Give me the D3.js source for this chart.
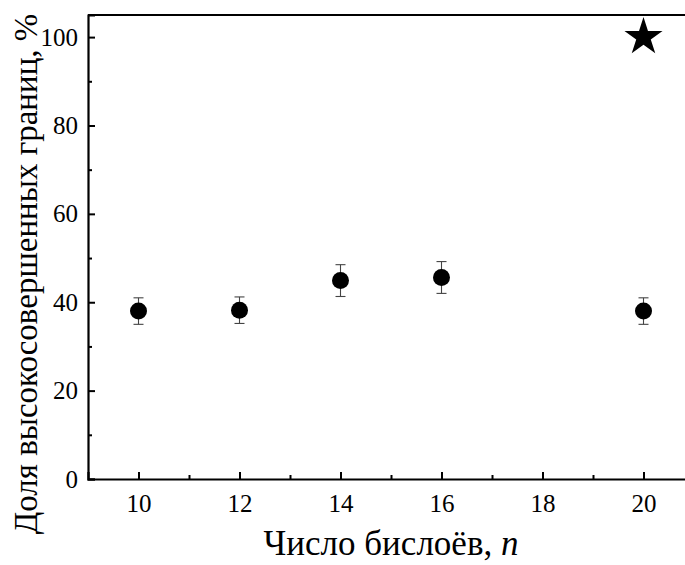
<!DOCTYPE html>
<html>
<head>
<meta charset="utf-8">
<script src="https://cdn.jsdelivr.net/npm/d3@7"></script>
<style>
  html, body { margin: 0; padding: 0; background: #fff; }
  svg { display: block; }
  text { font-family: "Liberation Serif", "Times New Roman", serif; fill: #000; }
</style>
</head>
<body>
<svg id="chart" width="685" height="565"></svg>
<script>
// Number of bilayers and share of high-perfection boundaries
const layers = [10, 12, 14, 16, 20];
const fraction = [38.0, 38.2, 44.9, 45.6, 38.0];
const fractionErr = [3.0, 3.0, 3.6, 3.6, 3.0];

// Reference point marked by a star
const starLayers = [20];
const starFraction = [100];

const xTicks = [10, 12, 14, 16, 18, 20];
const xMinorTicks = [11, 13, 15, 17, 19];
const yTicks = [0, 20, 40, 60, 80, 100];
const yMinorTicks = [10, 30, 50, 70, 90];

const svg = d3.select("#chart");
const W = 685, H = 565;
const margin = { left: 88, top: 15, bottom: 86 };
const plotRight = 694;

const x = d3.scaleLinear().domain([9, 21]).range([margin.left, plotRight]);
const y = d3.scaleLinear().domain([0, 105]).range([H - margin.bottom, margin.top]);

const g = svg.append("g");

// top frame line
g.append("line")
  .attr("x1", x(9)).attr("x2", x(21))
  .attr("y1", y(105)).attr("y2", y(105))
  .attr("stroke", "#000").attr("stroke-width", 2);

// x axis: major ticks with labels, minor ticks without
g.append("g")
  .attr("transform", `translate(0,${y(0)})`)
  .call(d3.axisBottom(x).tickValues(xTicks).tickSize(-7).tickPadding(15).tickFormat(d3.format("d")));
g.append("g")
  .attr("transform", `translate(0,${y(0)})`)
  .call(d3.axisBottom(x).tickValues(xMinorTicks).tickSize(-4).tickFormat(""))
  .select(".domain").remove();

// y axis
g.append("g")
  .attr("transform", `translate(${x(9)},0)`)
  .call(d3.axisLeft(y).tickValues(yTicks).tickSize(-7).tickPadding(10).tickFormat(d3.format("d")));
g.append("g")
  .attr("transform", `translate(${x(9)},0)`)
  .call(d3.axisLeft(y).tickValues(yMinorTicks).tickSize(-4).tickFormat(""))
  .select(".domain").remove();

svg.selectAll(".domain").attr("stroke", "#000").attr("stroke-width", 2.2);
svg.selectAll(".tick line").attr("stroke", "#000").attr("stroke-width", 2);
svg.selectAll(".tick text").attr("font-size", 25).attr("font-family", "Liberation Serif");

// error bars
const pts = layers.map((n, i) => ({ n, v: fraction[i], e: fractionErr[i] }));
const eb = g.append("g").attr("stroke", "#444").attr("stroke-width", 1.1);
eb.selectAll("line.v").data(pts).join("line")
  .attr("x1", d => x(d.n)).attr("x2", d => x(d.n))
  .attr("y1", d => y(d.v + d.e)).attr("y2", d => y(d.v - d.e));
eb.selectAll("line.t").data(pts).join("line")
  .attr("x1", d => x(d.n) - 5).attr("x2", d => x(d.n) + 5)
  .attr("y1", d => y(d.v + d.e)).attr("y2", d => y(d.v + d.e));
eb.selectAll("line.b").data(pts).join("line")
  .attr("x1", d => x(d.n) - 5).attr("x2", d => x(d.n) + 5)
  .attr("y1", d => y(d.v - d.e)).attr("y2", d => y(d.v - d.e));

// markers
g.append("g").selectAll("circle").data(pts).join("circle")
  .attr("cx", d => x(d.n)).attr("cy", d => y(d.v)).attr("r", 8.5)
  .attr("fill", "#000");

const stars = starLayers.map((n, i) => ({ n, v: starFraction[i] }));
g.append("g").selectAll("path").data(stars).join("path")
  .attr("d", d3.symbol(d3.symbolStar, 450))
  .attr("transform", d => `translate(${x(d.n)},${y(d.v)})`)
  .attr("fill", "#000");

// axis titles
const xt = svg.append("text")
  .attr("x", 391).attr("y", 555)
  .attr("text-anchor", "middle")
  .attr("font-size", 35);
xt.append("tspan").text("Число бислоёв, ");
xt.append("tspan").attr("font-style", "italic").text("n");

svg.append("text")
  .attr("transform", "translate(37,274) rotate(-90)")
  .attr("text-anchor", "middle")
  .attr("font-size", 33)
  .text("Доля высокосовершенных границ, %");
</script>
</body>
</html>
